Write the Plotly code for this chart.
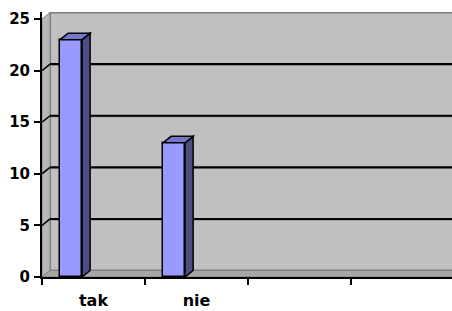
import plotly.graph_objects as go

# ---- data ----
categories = ["tak", "nie"]
values = [23, 13]
n_slots = 4              # category slots on the axis (two are empty)
y_ticks = [0, 5, 10, 15, 20, 25]

# ---- style ----
FRONT = "#9999FF"
SIDE = "#4D4D85"
TOP = "#7777CC"
WALL = "#C0C0C0"
FLOOR = "#A6A6A6"
EDGE = "#808080"
DX, DY = 0.078, 0.63      # pseudo-3D depth offsets (data units)
BAR_OFF, BAR_W = 0.175, 0.214
XMAX, YMAX = 3.98, 25.68
FONT = dict(family="DejaVu Sans", size=15, color="black")

fig = go.Figure()

x_front = [i + BAR_OFF + BAR_W / 2 for i in range(len(categories))]
fig.add_trace(go.Bar(
    x=x_front, y=values, width=BAR_W,
    marker=dict(color=FRONT, line=dict(color="black", width=1.5)),
    hoverinfo="skip", showlegend=False,
))

shapes = []
# back wall
shapes.append(dict(type="rect", xref="x", yref="y", x0=DX, x1=XMAX + 0.05,
                   y0=DY, y1=y_ticks[-1] + DY, fillcolor=WALL,
                   line=dict(color=EDGE, width=2), layer="below"))
# left wall
shapes.append(dict(type="path", xref="x", yref="y",
                   path=f"M0,0 L{DX},{DY} L{DX},{y_ticks[-1]+DY} L0,{y_ticks[-1]} Z",
                   fillcolor="#B8B8B8", line=dict(color=EDGE, width=1), layer="below"))
# floor
shapes.append(dict(type="path", xref="x", yref="y",
                   path=f"M0,0 L{DX},{DY} L{XMAX+0.05},{DY} L{XMAX+0.05},0 Z",
                   fillcolor=FLOOR, line=dict(color=EDGE, width=1), layer="below"))
# gridlines on wall
for v in y_ticks[1:-1]:
    shapes.append(dict(type="line", xref="x", yref="y", x0=DX, x1=XMAX + 0.05,
                       y0=v + DY - 0.1, y1=v + DY - 0.1,
                       line=dict(color="#707070", width=1), layer="below"))
    shapes.append(dict(type="line", xref="x", yref="y", x0=DX, x1=XMAX + 0.05,
                       y0=v + DY, y1=v + DY, line=dict(color="black", width=2),
                       layer="below"))
    shapes.append(dict(type="line", xref="x", yref="y", x0=0, x1=DX,
                       y0=v, y1=v + DY, line=dict(color="black", width=1.5),
                       layer="below"))
# bar side and top faces
for xc, v in zip(x_front, values):
    x0, x1 = xc - BAR_W / 2, xc + BAR_W / 2
    shapes.append(dict(type="path", xref="x", yref="y",
                       path=f"M{x1},0 L{x1+DX},{DY} L{x1+DX},{v+DY} L{x1},{v} Z",
                       fillcolor=SIDE, line=dict(color="black", width=1.5), layer="above"))
    shapes.append(dict(type="path", xref="x", yref="y",
                       path=f"M{x0},{v} L{x0+DX},{v+DY} L{x1+DX},{v+DY} L{x1},{v} Z",
                       fillcolor=TOP, line=dict(color="black", width=1.5), layer="above"))

fig.update_layout(
    width=452, height=311,
    margin=dict(l=42, r=0, t=12, b=34, autoexpand=False),
    paper_bgcolor="white", plot_bgcolor="white",
    font=FONT, shapes=shapes, bargap=0,
    xaxis=dict(
        range=[0, XMAX], tickmode="array",
        tickvals=[i + 0.5 for i in range(len(categories))], ticktext=categories,
        ticks="", showgrid=False, zeroline=False, automargin=False,
        showline=True, linecolor="black", linewidth=2,
        tickfont=dict(family="DejaVu Sans", size=16, color="black", weight="bold"),
        ticklabelstandoff=8,
        minor=dict(tickmode="array", tickvals=list(range(n_slots)), ticks="outside",
                   ticklen=6, tickwidth=2, tickcolor="black", showgrid=False),
    ),
    yaxis=dict(
        range=[0, YMAX], tickmode="array", tickvals=y_ticks,
        ticks="outside", ticklen=6, tickwidth=2, tickcolor="black",
        showgrid=False, zeroline=False, automargin=False,
        showline=True, linecolor="black", linewidth=2,
        tickfont=dict(family="DejaVu Sans", size=15, color="black", weight="bold"),
        ticklabelstandoff=1,
    ),
)

fig.write_html("out.html", config={"displayModeBar": False},
               post_script="document.body.style.margin='0';")
